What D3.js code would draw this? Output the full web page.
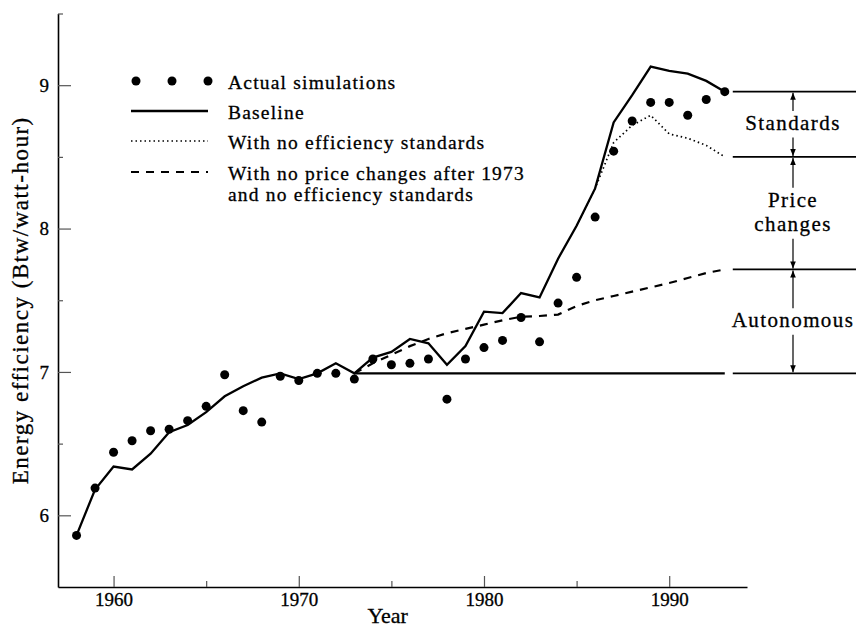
<!DOCTYPE html>
<html>
<head>
<meta charset="utf-8">
<script src="https://cdn.jsdelivr.net/npm/d3@7/dist/d3.min.js"></script>
<style>
  html, body { margin: 0; padding: 0; background: #fff; }
  svg { display: block; }
  text { font-family: "Liberation Serif", "Times New Roman", serif; fill: #000;
         stroke: #000; stroke-width: 0.3px; }
</style>
</head>
<body>
<svg id="chart" width="861" height="628"></svg>
<script>
// Years covered by the simulation runs
const years = [1958, 1959, 1960, 1961, 1962, 1963, 1964, 1965, 1966, 1967, 1968, 1969,
               1970, 1971, 1972, 1973, 1974, 1975, 1976, 1977, 1978, 1979, 1980, 1981,
               1982, 1983, 1984, 1985, 1986, 1987, 1988, 1989, 1990, 1991, 1992, 1993];

// Actual simulations (dots), Btu per watt-hour
const actual = [5.86, 6.19, 6.44, 6.52, 6.59, 6.60, 6.66, 6.76, 6.98, 6.73, 6.65, 6.97,
                6.94, 6.99, 6.99, 6.95, 7.09, 7.05, 7.06, 7.09, 6.81, 7.09, 7.17, 7.22,
                7.38, 7.21, 7.48, 7.66, 8.08, 8.54, 8.75, 8.88, 8.88, 8.79, 8.90, 8.955];

// Baseline model run
const baseline = [5.86, 6.18, 6.34, 6.32, 6.43, 6.58, 6.63, 6.72, 6.83, 6.90, 6.96, 6.99,
                  6.95, 6.99, 7.06, 6.99, 7.10, 7.14, 7.23, 7.20, 7.05, 7.18, 7.42, 7.41,
                  7.55, 7.52, 7.79, 8.02, 8.28, 8.74, 8.93, 9.13, 9.10, 9.08, 9.03, 8.955];

// With no efficiency standards (splits from the baseline in the late 1980s)
const noStdYears = [1985, 1986, 1987, 1988, 1989, 1990, 1991, 1992, 1993];
const noStandards = [8.02, 8.28, 8.60, 8.72, 8.79, 8.66, 8.63, 8.58, 8.50];

// With no price changes after 1973 and no efficiency standards
const noPriceYears = [1973, 1974, 1975, 1976, 1977, 1978, 1979, 1980, 1981, 1982, 1983,
                      1984, 1985, 1986, 1987, 1988, 1989, 1990, 1991, 1992, 1993];
const noPrice = [6.99, 7.06, 7.12, 7.18, 7.23, 7.27, 7.30, 7.33, 7.36, 7.385, 7.39,
                 7.40, 7.46, 7.50, 7.53, 7.56, 7.59, 7.62, 7.655, 7.69, 7.715];

// Efficiency held at its 1973 level
const frozenYears = [1973, 1993];
const frozen = [6.99, 6.99];

// Axis ticks
const yMajorTicks = [6, 7, 8, 9];
const yMinorTicks = [6.5, 7.5, 8.5, 9.5];
const xMajorTicks = [1960, 1970, 1980, 1990];
const xMinorTicks = [1965, 1975, 1985];

// Legend entries and bracket labels
const legendLabels = ["Actual simulations", "Baseline", "With no efficiency standards",
                      "With no price changes after 1973", "and no efficiency standards"];
const bracketLabels = [["Standards"], ["Price", "changes"], ["Autonomous"]];

const svg = d3.select("#chart");

const x = d3.scaleLinear().domain([1957, 1994.2]).range([58, 747]);
const y = d3.scaleLinear().domain([5.5, 9.5]).range([587, 13.5]);

// ---- axes (ticks point inward) ----
svg.append("g").attr("transform", `translate(${x(1957)},0)`)
  .call(d3.axisLeft(y).tickValues(yMajorTicks).tickFormat(d3.format("d"))
        .tickSizeInner(-13).tickSizeOuter(0).tickPadding(9));
svg.append("g").attr("transform", `translate(${x(1957)},0)`)
  .call(d3.axisLeft(y).tickValues(yMinorTicks).tickFormat("")
        .tickSizeInner(-5).tickSizeOuter(0))
  .call(g => g.select(".domain").remove());

svg.append("g").attr("transform", `translate(0,${y(5.5)})`)
  .call(d3.axisBottom(x).tickValues(xMajorTicks).tickFormat(d3.format("d"))
        .tickSizeInner(-11).tickSizeOuter(0).tickPadding(6));
svg.append("g").attr("transform", `translate(0,${y(5.5)})`)
  .call(d3.axisBottom(x).tickValues(xMinorTicks).tickFormat("")
        .tickSizeInner(-6).tickSizeOuter(0))
  .call(g => g.select(".domain").remove());

svg.selectAll(".domain").attr("stroke", "#000").attr("stroke-width", 1.6);
svg.selectAll(".tick line").attr("stroke", "#555").attr("stroke-width", 1.2);
svg.selectAll(".tick text")
  .style("font-family", "'Liberation Serif', serif")
  .style("font-size", "19px")
  .style("fill", "#000");

// Axis titles
svg.append("text")
  .attr("transform", `translate(28,${(y(5.5) + y(9.5)) / 2}) rotate(-90)`)
  .attr("text-anchor", "middle")
  .style("font-size", "23px")
  .attr("letter-spacing", 1.5)
  .text("Energy efficiency (Btw/watt-hour)");

svg.append("text")
  .attr("x", x(1974.8)).attr("y", 623)
  .attr("text-anchor", "middle")
  .style("font-size", "22px")
  .text("Year");

// ---- series ----
const line = d3.line().x(d => x(d[0])).y(d => y(d[1]));
const zipPairs = (xs, ys) => xs.map((v, i) => [v, ys[i]]);

svg.append("path").datum(zipPairs(frozenYears, frozen))
  .attr("d", line).attr("fill", "none").attr("stroke", "#000").attr("stroke-width", 2.2);

svg.append("path").datum(zipPairs(noPriceYears, noPrice))
  .attr("d", line).attr("fill", "none").attr("stroke", "#000").attr("stroke-width", 2.2)
  .attr("stroke-dasharray", "8,7");

svg.append("path").datum(zipPairs(noStdYears, noStandards))
  .attr("d", line).attr("fill", "none").attr("stroke", "#000").attr("stroke-width", 1.7)
  .attr("stroke-dasharray", "1.5,3");

svg.append("path").datum(zipPairs(years, baseline))
  .attr("d", line).attr("fill", "none").attr("stroke", "#000").attr("stroke-width", 2.3)
  .attr("stroke-linejoin", "miter");

svg.append("g").selectAll("circle").data(zipPairs(years, actual)).join("circle")
  .attr("cx", d => x(d[0])).attr("cy", d => y(d[1])).attr("r", 4.5).attr("fill", "#000");

// ---- legend ----
const lg = svg.append("g");
const sampleX0 = 131, sampleX1 = 208, textX = 228;
const rowY = [83, 113, 143, 174, 195];
[136, 172, 208].forEach(cx =>
  lg.append("circle").attr("cx", cx).attr("cy", rowY[0] - 2).attr("r", 4.5).attr("fill", "#000"));
lg.append("line").attr("x1", sampleX0).attr("x2", sampleX1).attr("y1", rowY[1] - 2).attr("y2", rowY[1] - 2)
  .attr("stroke", "#000").attr("stroke-width", 2.3);
lg.append("line").attr("x1", sampleX0).attr("x2", sampleX1).attr("y1", rowY[2] - 2).attr("y2", rowY[2] - 2)
  .attr("stroke", "#000").attr("stroke-width", 1.7).attr("stroke-dasharray", "1.5,3");
lg.append("line").attr("x1", sampleX0).attr("x2", sampleX1).attr("y1", rowY[3] - 2).attr("y2", rowY[3] - 2)
  .attr("stroke", "#000").attr("stroke-width", 2.2).attr("stroke-dasharray", "8,7");
legendLabels.forEach((t, i) =>
  lg.append("text").attr("x", textX).attr("y", rowY[i]).attr("dy", "0.32em")
    .style("font-size", "19.5px").attr("letter-spacing", 1.2).text(t));

// ---- decomposition brackets on the right ----
const levels = [baseline[baseline.length - 1], noStandards[noStandards.length - 1],
                noPrice[noPrice.length - 1], frozen[frozen.length - 1]];
const lineX0 = x(1993) + 8, lineX1 = 856, arrowX = 793;

svg.append("defs").append("marker")
  .attr("id", "head").attr("viewBox", "0 0 10 10").attr("refX", 10).attr("refY", 5)
  .attr("markerWidth", 8).attr("markerHeight", 7).attr("markerUnits", "userSpaceOnUse")
  .attr("orient", "auto")
  .append("path").attr("d", "M0,1 L10,5 L0,9 Z").attr("fill", "#000");

const br = svg.append("g");
levels.forEach(v =>
  br.append("line").attr("x1", lineX0).attr("x2", lineX1).attr("y1", y(v)).attr("y2", y(v))
    .attr("stroke", "#000").attr("stroke-width", 1.6));

bracketLabels.forEach((lines, i) => {
  const top = y(levels[i]), bottom = y(levels[i + 1]);
  const mid = (top + bottom) / 2;
  const lh = 24.5;
  const half = (lines.length * lh) / 2;
  lines.forEach((t, j) =>
    br.append("text").attr("x", arrowX).attr("y", mid - half + lh * (j + 0.5) - 1).attr("dy", "0.33em")
      .attr("text-anchor", "middle").style("font-size", "21px").attr("letter-spacing", 1.4).text(t));
  br.append("line").attr("x1", arrowX).attr("x2", arrowX)
    .attr("y1", mid - half - 1).attr("y2", top + 1)
    .attr("stroke", "#000").attr("stroke-width", 1.2).attr("marker-end", "url(#head)");
  br.append("line").attr("x1", arrowX).attr("x2", arrowX)
    .attr("y1", mid + half + 1).attr("y2", bottom - 1)
    .attr("stroke", "#000").attr("stroke-width", 1.2).attr("marker-end", "url(#head)");
});
</script>
</body>
</html>
